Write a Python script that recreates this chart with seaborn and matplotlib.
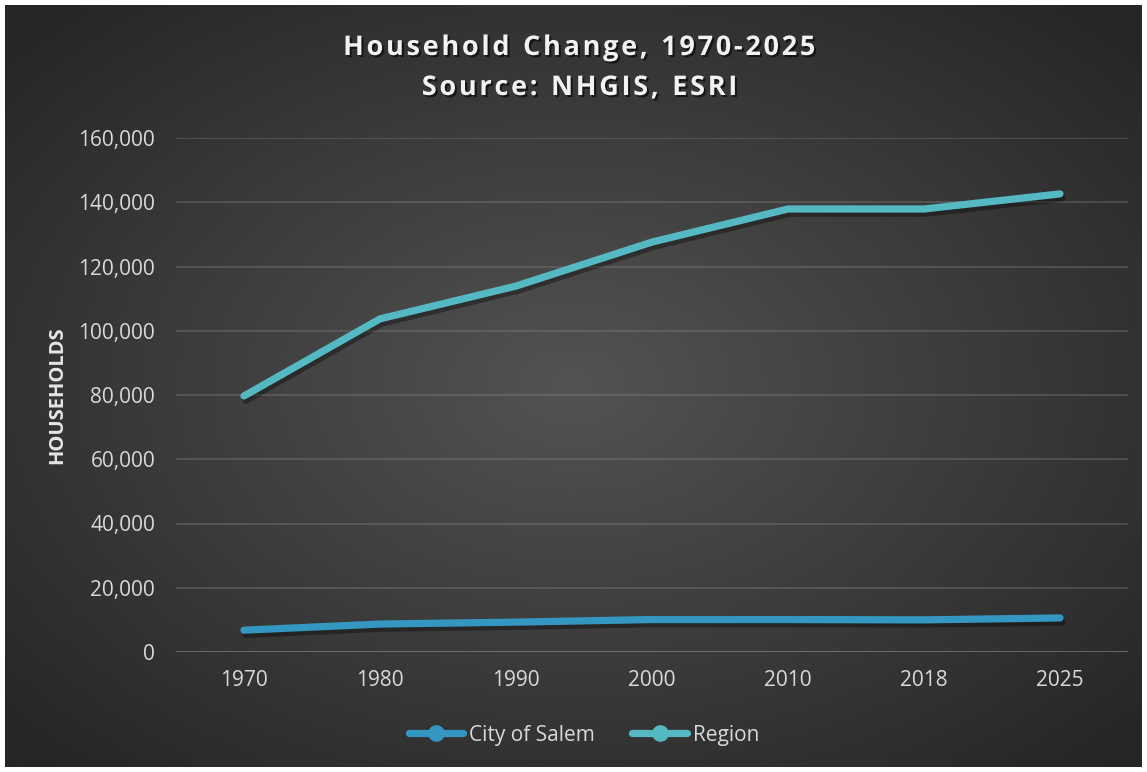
import numpy as np
import pandas as pd
import matplotlib
matplotlib.use("Agg")
import matplotlib.pyplot as plt
import matplotlib.patheffects as pe
from matplotlib.lines import Line2D
import seaborn as sns

years = ["1970", "1980", "1990", "2000", "2010", "2018", "2025"]
salem = [6800, 8700, 9300, 10100, 10100, 10000, 10600]
region = [79700, 103700, 113900, 127600, 137900, 137900, 142600]
series_names = ["City of Salem", "Region"]
yticks = [0, 20000, 40000, 60000, 80000, 100000, 120000, 140000, 160000]

sns.set_theme(style="dark")
plt.rcParams['font.family'] = ['Open Sans', 'DejaVu Sans']

W, H = 1147, 772
fig = plt.figure(figsize=(W / 100, H / 100), dpi=100, facecolor="white")

# background radial gradient panel
bg = fig.add_axes([5 / W, 5 / H, (W - 10) / W, (H - 10) / H])
gx, gy = np.meshgrid(np.linspace(-1, 1, 400), np.linspace(-1, 1, 300))
r = np.sqrt(gx ** 2 + gy ** 2)
r = np.clip(r / 1.35, 0, 1)
c0 = np.array([0x53, 0x53, 0x53]) / 255
c1 = np.array([0x26, 0x26, 0x26]) / 255
img = c0[None, None, :] * (1 - r[..., None]) + c1[None, None, :] * r[..., None]
bg.imshow(img, aspect="auto", extent=[0, 1, 0, 1], interpolation="bilinear")
bg.set_axis_off()

ax = fig.add_axes([176 / W, 1 - 652 / H, (1128 - 176) / W, (652 - 138) / H])
ax.set_facecolor("none")

df = pd.DataFrame({
    "Year": years * 2,
    "Households": salem + region,
    "Series": [series_names[0]] * len(years) + [series_names[1]] * len(years),
})
colors = {"City of Salem": "#3497C2", "Region": "#55B9C4"}
sns.lineplot(data=df, x="Year", y="Households", hue="Series", palette=colors,
             linewidth=5.2, ax=ax, legend=False, sort=False)
for ln in ax.lines:
    ln.set_solid_capstyle("round")
    ln.set_solid_joinstyle("round")
    ln.set_path_effects([pe.SimpleLineShadow(offset=(1.5, -3), shadow_color="black", alpha=0.35),
                         pe.Normal()])
    ln.set_zorder(3)

ax.set_xlim(-0.5, len(years) - 0.5)
ax.set_ylim(0, 160000)
ax.set_yticks(yticks)
ax.set_yticklabels([f"{v:,}" for v in yticks])
ax.yaxis.grid(True, color="#8A8A8A", alpha=0.35, linewidth=1.3)
ax.xaxis.grid(False)
for s in ax.spines.values():
    s.set_visible(False)
ax.axhline(0, color="#8A8A8A", alpha=0.45, linewidth=1.5, zorder=1)
ax.tick_params(axis="both", length=0, colors="#D9D9D9", labelsize=15)
ax.tick_params(axis="y", pad=15)
ax.tick_params(axis="x", pad=13)
ax.set_xlabel("")
ax.set_ylabel("HOUSEHOLDS", color="#E6E6E6", fontsize=14.5, fontweight="bold", labelpad=8)

title_fx = [pe.withSimplePatchShadow(offset=(1.5, -1.5), shadow_rgbFace="black", alpha=0.6)]
def spaced(s):
    return s.replace("   ", "\u2002").replace(" ", "\u200a")
fig.text(580 / W, 1 - 48 / H, spaced("H o u s e h o l d   C h a n g e ,   1 9 7 0 - 2 0 2 5"),
         ha="center", va="center", color="#F2F2F2", fontsize=19.5, fontweight="bold",
         path_effects=title_fx)
fig.text(580 / W, 1 - 88 / H, spaced("S o u r c e :   N H G I S ,   E S R I"),
         ha="center", va="center", color="#F2F2F2", fontsize=19.5, fontweight="bold",
         path_effects=title_fx)

handles = [Line2D([0], [0], color=colors[n], linewidth=5.2, marker="o", markersize=11,
                  markerfacecolor=colors[n], markeredgecolor=colors[n], solid_capstyle="round")
           for n in series_names]
leg = fig.legend(handles, series_names, loc="center", bbox_to_anchor=(584 / W, 1 - 735 / H),
                 ncol=2, frameon=False, fontsize=15, handlelength=2.6, handletextpad=0.3,
                 columnspacing=1.8)
for t in leg.get_texts():
    t.set_color("#D9D9D9")

fig.savefig("out.png", dpi=100, facecolor="white")
